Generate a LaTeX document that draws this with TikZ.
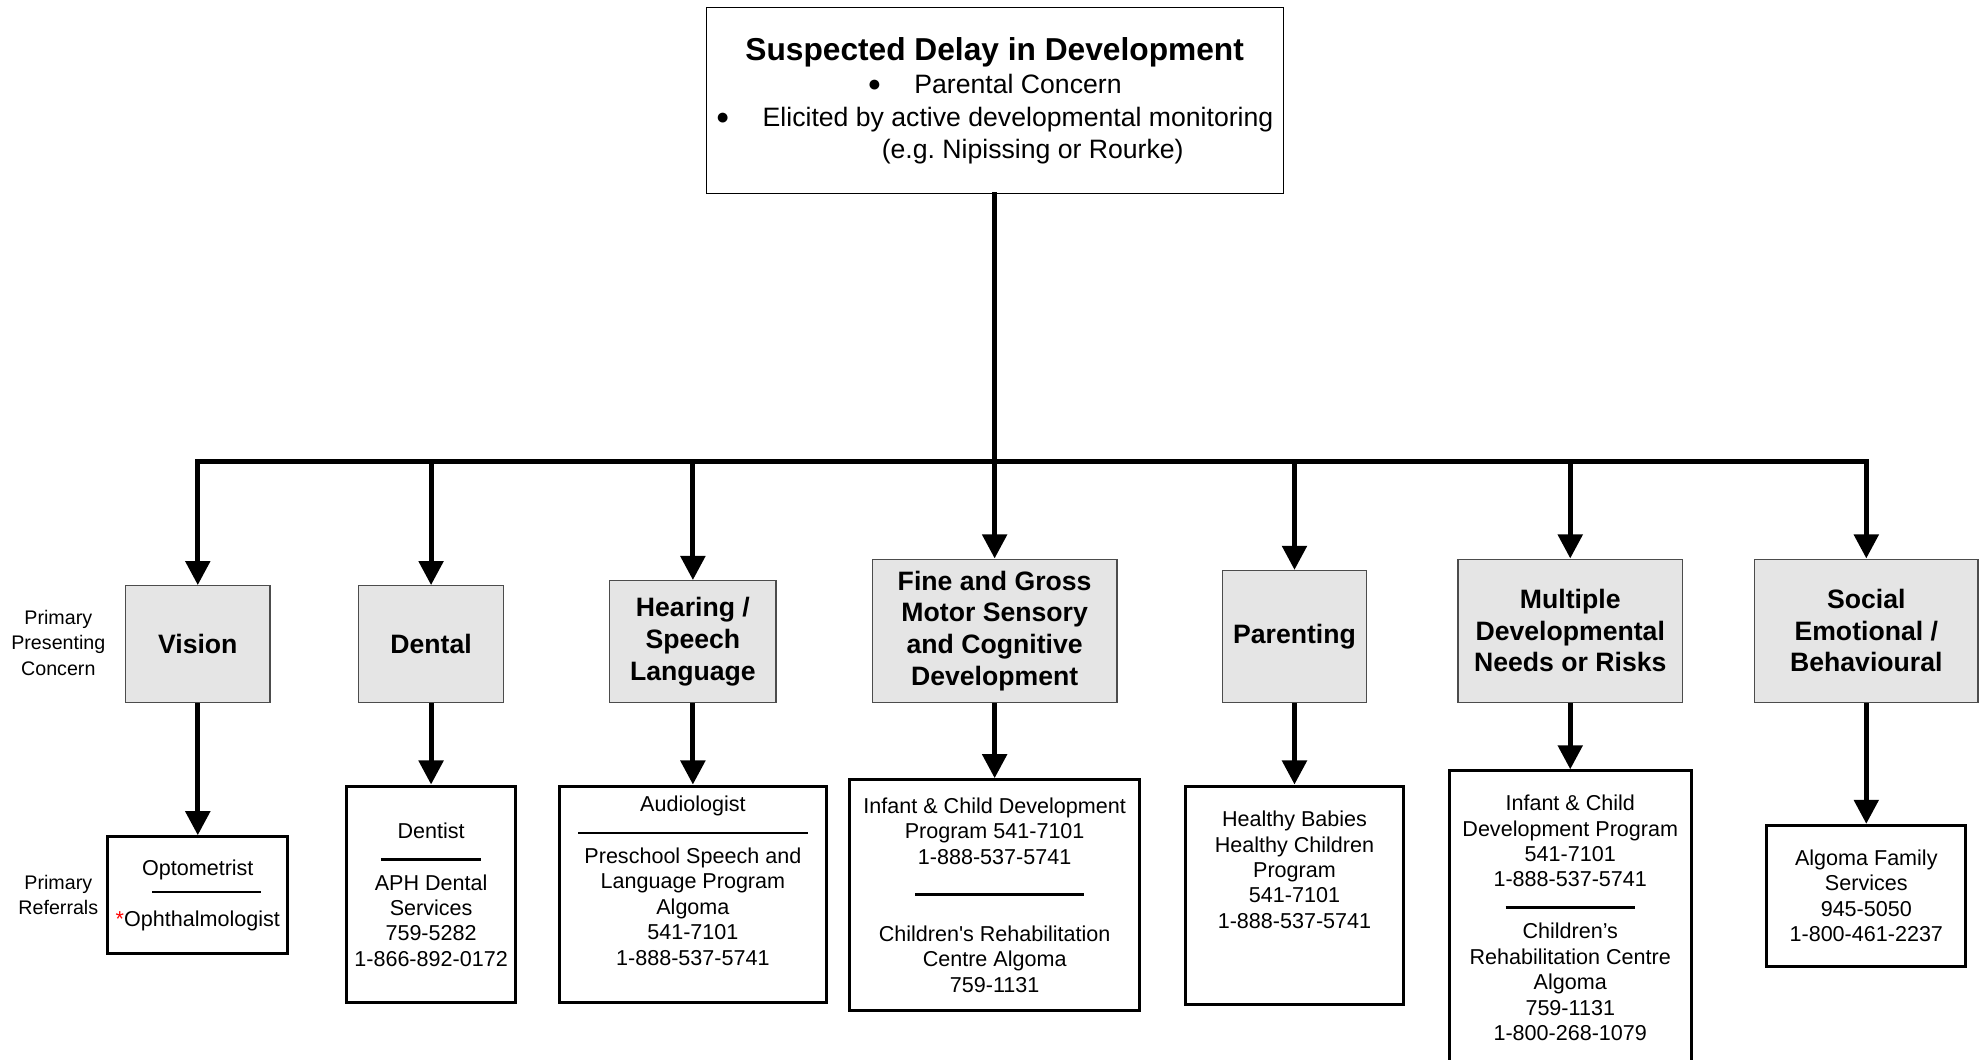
\documentclass[tikz,border=0pt]{standalone}
\usepackage{fontspec}
\setmainfont{Liberation Sans}
\usepackage{tikz}
\usetikzlibrary{arrows.meta,positioning}
\tikzstyle{hd}    = [rectangle, draw=black, thick, align=center, inner sep=0pt, minimum width=455pt, minimum height=147pt, font=\fontsize{21}{26}\selectfont]
\tikzstyle{cat}   = [rectangle, draw=black!70, fill=black!10, line width=1pt, align=center, inner sep=0pt, font=\fontsize{21}{25}\selectfont\bfseries]
\tikzstyle{ref}   = [rectangle, draw=black, fill=white, line width=2.4pt, align=center, inner sep=0pt, font=\fontsize{17}{20}\selectfont]
\tikzstyle{side}  = [align=center, inner sep=0pt, font=\fontsize{15.5}{20}\selectfont]
\tikzstyle{arr}   = [-{Triangle[length=19pt,width=19pt]}, line width=4pt]
\tikzstyle{trunk} = [line width=4pt, line cap=rect]
\newcommand{\sepline}[1]{\rule[6pt]{#1}{2pt}}
\newcommand{\bigdot}{\raisebox{1.5pt}{\fontsize{18}{18}\selectfont ●}}

\begin{document}
\begin{tikzpicture}[x=1pt,y=-1pt]
		\clip (0,0) rectangle (1568,836);

		\node[hd] (susp) at (784.5,79.5) {{\fontsize{25}{28}\selectfont\bfseries Suspected Delay in Development}\\
			\bigdot\hspace{26pt}Parental Concern\\
			\bigdot\hspace{26pt}Elicited by active developmental monitoring\\
			\hspace*{60pt}(e.g.\ Nipissing or Rourke)};

		\node[side] (pcon) at (46,507) {Primary\\Presenting\\Concern};
		\node[side] (pref) at (46,706) {Primary\\Referrals};

		\begin{scope}[every node/.style=cat]
			\node (vision)    at (156,508)    [minimum width=114pt, minimum height=92pt]  {Vision};
			\node (dental)    at (340,508)    [minimum width=114pt, minimum height=92pt]  {Dental};
			\node (hearing)   at (546.5,506)  [minimum width=131pt, minimum height=96pt]  {Hearing /\\Speech\\Language};
			\node (motor)     at (784.5,497.5) [minimum width=193pt, minimum height=113pt] {Fine and Gross\\Motor Sensory\\and Cognitive\\Development};
			\node (parenting) at (1021,502)   [minimum width=114pt, minimum height=104pt] {Parenting};
			\node (multiple)  at (1238.5,497.5) [minimum width=177pt, minimum height=113pt] {Multiple\\Developmental\\Needs or Risks};
			\node (social)    at (1472,497.5) [minimum width=176pt, minimum height=113pt] {Social\\Emotional /\\Behavioural};
		\end{scope}

		\begin{scope}[every node/.style=ref]
			\node (optom)   at (156,706)    [minimum width=142pt, minimum height=92pt]
				{Optometrist\\\hspace*{14pt}\sepline{86pt}\\\textcolor{red}{*}Ophthalmologist};
			\node (dentist) at (340,705.5)  [minimum width=133pt, minimum height=171pt]
				{Dentist\\[4pt]\sepline{79pt}\\[-3pt]APH Dental\\Services\\759-5282\\1-866-892-0172};
			\node (audio)   at (546.5,705.5) [minimum width=211pt, minimum height=171pt]
				{Audiologist\\[4pt]\sepline{181pt}\\[-3pt]Preschool Speech and\\Language Program\\Algoma\\541-7101\\1-888-537-5741\\[2pt]\mbox{}};
			\node (infant)  at (784.5,706)  [minimum width=229pt, minimum height=182pt]
				{Infant \& Child Development\\Program 541-7101\\1-888-537-5741\\[11pt]\hspace*{8pt}\sepline{133pt}\\[10pt]Children\textquotesingle s Rehabilitation\\Centre Algoma\\759-1131};
			\node (healthy) at (1021,706)   [minimum width=172pt, minimum height=172pt]
				{Healthy Babies\\Healthy Children\\Program\\541-7101\\1-888-537-5741\\[20pt]\mbox{}};
			\node (idp)     at (1238.5,724) [minimum width=191pt, minimum height=232pt]
				{Infant \& Child\\Development Program\\541-7101\\1-888-537-5741\\[3pt]\sepline{102pt}\hspace*{11pt}\\[-2pt]Children’s\\Rehabilitation Centre\\Algoma\\759-1131\\1-800-268-1079};
			\node (family)  at (1472,706.5) [minimum width=157pt, minimum height=111pt]
				{Algoma Family\\Services\\945-5050\\1-800-461-2237};
		\end{scope}

		% trunk and bus
		\coordinate (bus) at (784.5,364);
		\draw[trunk] (susp) -- (bus);
		\draw[trunk] (vision |- bus) -- (social |- bus);

		\begin{scope}[arr]
			\draw (vision |- bus)    -- (vision);
			\draw (dental |- bus)    -- (dental);
			\draw (hearing |- bus)   -- (hearing);
			\draw (bus)              -- (motor);
			\draw (parenting |- bus) -- (parenting);
			\draw (multiple |- bus)  -- (multiple);
			\draw (social |- bus)    -- (social);

			\draw (vision)    -- (optom);
			\draw (dental)    -- (dentist);
			\draw (hearing)   -- (audio);
			\draw (motor)     -- (infant);
			\draw (parenting) -- (healthy);
			\draw (multiple)  -- (idp);
			\draw (social)    -- (family);
		\end{scope}
	\end{tikzpicture}
\end{document}
